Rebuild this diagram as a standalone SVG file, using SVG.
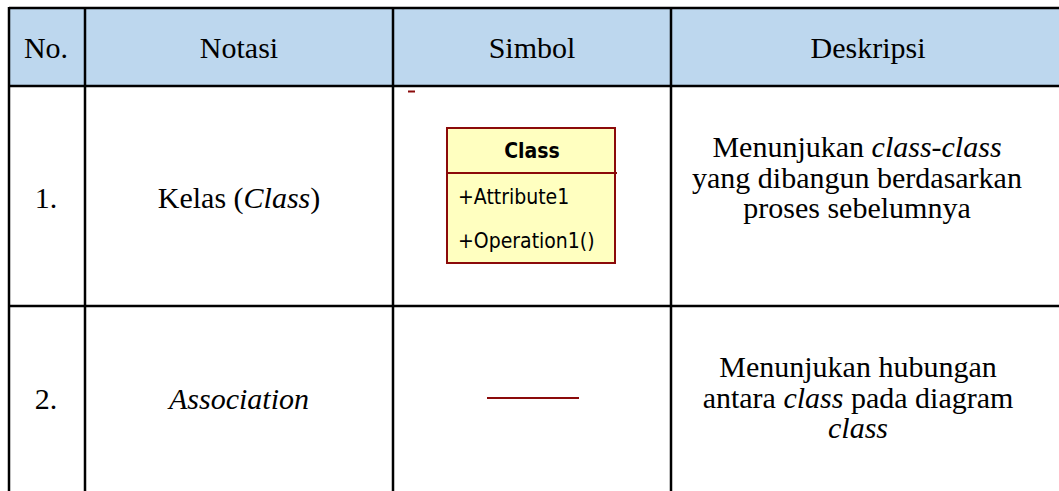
<svg xmlns="http://www.w3.org/2000/svg" width="1059" height="491" viewBox="0 0 1059 491">
<style>
.t{font-family:"Liberation Serif","Times New Roman",Tinos,serif;font-size:30px;fill:#000;text-anchor:middle}
.i{font-family:"Liberation Serif","Times New Roman",Tinos,serif;font-style:italic}
.grid{stroke:#000;stroke-width:2.5;fill:none}
.uml{font-family:"DejaVu Sans Condensed","DejaVu Sans",Tahoma,sans-serif;font-size:21px;fill:#000}
.red{stroke:#8b0a0a;stroke-width:2;fill:none}
</style>
<rect x="9" y="8" width="1050" height="78" fill="#bdd7ee"/>
<g id="grid">
<line class="grid" x1="9" y1="8" x2="1059" y2="8"/>
<line class="grid" x1="9" y1="86" x2="1059" y2="86"/>
<line class="grid" x1="9" y1="306" x2="1059" y2="306"/>
<line class="grid" x1="9" y1="7" x2="9" y2="491"/>
<line class="grid" x1="85" y1="7" x2="85" y2="491"/>
<line class="grid" x1="393" y1="7" x2="393" y2="491"/>
<line class="grid" x1="671" y1="7" x2="671" y2="491"/>
</g>
<g id="header">
<text class="t" x="46" y="58">No.</text>
<text class="t" x="239" y="58">Notasi</text>
<text class="t" x="532" y="58">Simbol</text>
<text class="t" x="868" y="58">Deskripsi</text>
</g>
<g id="row1">
<text class="t" x="46" y="208">1.</text>
<text class="t" x="239" y="208">Kelas (<tspan class="i">Class</tspan>)</text>
<line class="red" x1="408" y1="91.5" x2="415" y2="91.5"/>
<g id="classbox">
<rect x="447" y="128" width="168" height="135" fill="#ffffc0" stroke="#8b0a0a" stroke-width="2"/>
<line class="red" x1="447" y1="173" x2="617" y2="173"/>
<text class="uml" x="532" y="158" text-anchor="middle" font-weight="bold">Class</text>
<text class="uml" x="458" y="204">+Attribute1</text>
<text class="uml" x="458" y="248">+Operation1()</text>
</g>
<text class="t" x="857" y="157">Menunjukan <tspan class="i">class-class</tspan></text>
<text class="t" x="857" y="188">yang dibangun berdasarkan</text>
<text class="t" x="857" y="218">proses sebelumnya</text>
</g>
<g id="row2">
<text class="t" x="46" y="409">2.</text>
<text class="t i" x="239" y="409">Association</text>
<text class="t" x="858" y="377">Menunjukan hubungan</text>
<text class="t" x="858" y="408">antara <tspan class="i">class</tspan> pada diagram</text>
<text class="t i" x="858" y="438">class</text>
</g>
<g id="connectors">
<line class="red" x1="487" y1="398" x2="579" y2="398"/>
</g>
</svg>
